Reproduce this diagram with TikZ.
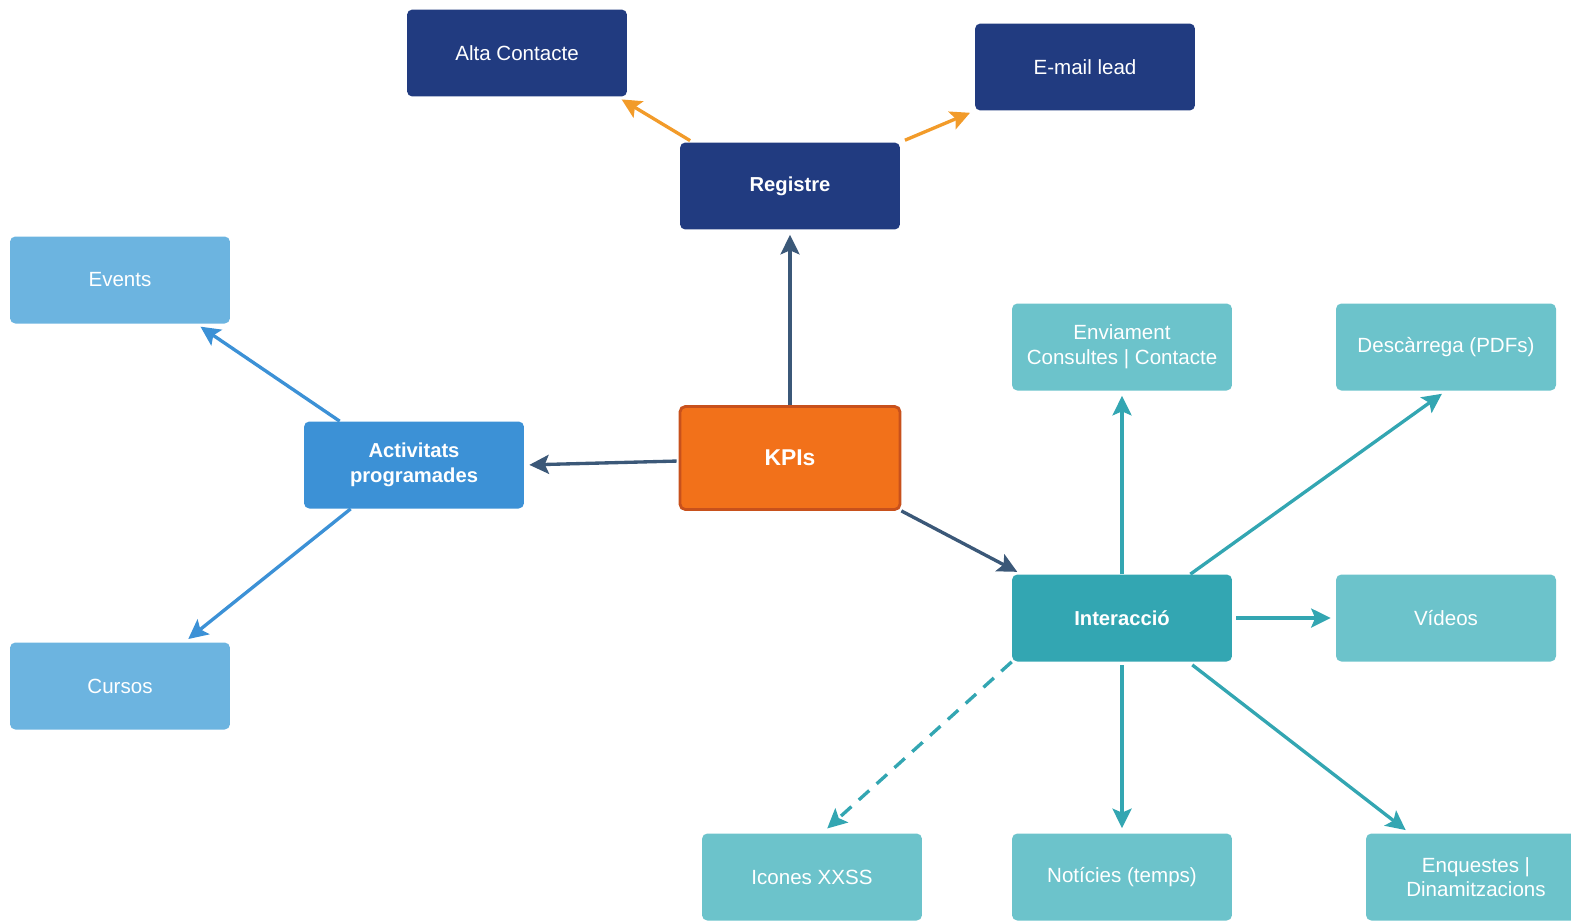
\documentclass[tikz,border=0pt]{standalone}
\usepackage{fontspec}
\setmainfont{Liberation Sans}
\definecolor{KpiNavy}{HTML}{213B80}
\definecolor{KpiOrange}{HTML}{F2711A}
\definecolor{KpiRust}{HTML}{C8511C}
\definecolor{KpiAmber}{HTML}{F29B2A}
\definecolor{KpiSlate}{HTML}{3B5878}
\definecolor{KpiBlue}{HTML}{3C91D6}
\definecolor{KpiSky}{HTML}{6CB4E0}
\definecolor{KpiTeal}{HTML}{33A6B2}
\definecolor{KpiAqua}{HTML}{6CC3CB}
\usetikzlibrary{arrows.meta,positioning}
\tikzset{
  box/.style={rounded corners=3pt, align=center, minimum height=1.74cm, minimum width=4.4cm, inner sep=2pt, text=white, font=\fontsize{11.7}{14}\selectfont},
  navybox/.style={box, fill=KpiNavy},
  actbox/.style={box, fill=KpiBlue, font=\fontsize{11.5}{14}\selectfont\bfseries},
  subbox/.style={box, fill=KpiSky},
  intbox/.style={box, fill=KpiTeal, font=\fontsize{11.5}{14}\selectfont\bfseries},
  leafbox/.style={box, fill=KpiAqua},
  kpibox/.style={box, fill=KpiOrange, draw=KpiRust, line width=1.6pt, minimum width=4.4cm, minimum height=2.06cm, font=\fontsize{13}{15}\selectfont\bfseries},
  arrow/.style={-{Stealth[length=3.9mm,width=3.8mm,inset=0.8mm]}, line width=1.9pt, shorten >=0.1cm}
}
\begin{document}
\begin{tikzpicture}[x=0.02cm, y=-0.02cm]
    \useasboundingbox (0,0) rectangle (1571,920);
    \node[kpibox] (kpis) at (790,458) {KPIs};
    \node[navybox, font=\fontsize{11.5}{14}\selectfont\bfseries] (registre) at (790,186) {Registre};
    \node[navybox] (alta) at (517,53) {Alta Contacte};
    \node[navybox] (email) at (1085,67) {E-mail lead};
    \node[actbox] (activitats) at (414,465) {Activitats\\programades};
    \node[subbox] (events) at (120,280) {Events};
    \node[subbox] (cursos) at (120,686) {Cursos};
    \node[intbox] (interaccio) at (1122,618) {Interacció};
    \node[leafbox] (enviament) at (1122,347) {Enviament\\Consultes | Contacte};
    \node[leafbox] (descarrega) at (1446,347) {Descàrrega (PDFs)};
    \node[leafbox] (videos) at (1446,618) {Vídeos};
    \node[leafbox] (icones) at (812,877) {Icones XXSS};
    \node[leafbox] (noticies) at (1122,877) {Notícies (temps)};
    \node[leafbox] (enquestes) at (1476,877) {Enquestes |\\Dinamitzacions};
    % from KPIs
    \draw[arrow, KpiSlate] (kpis) -- (registre);
    \draw[arrow, KpiSlate, shorten <=0.04cm] ([yshift=-0.06cm]kpis.west) -- (activitats.east);
    \draw[arrow, KpiSlate] (kpis.south east) -- ([xshift=0.2cm]interaccio.north west);
    % registre
    \draw[arrow, KpiAmber, shorten <=0.06cm] ([xshift=0.26cm]registre.north west) -- ([xshift=-0.2cm]alta.south east);
    \draw[arrow, KpiAmber, shorten <=0.1cm] (registre.north east) -- (email.south west);
    % activitats
    \draw[arrow, KpiBlue] ([xshift=0.72cm]activitats.north west) -- ([xshift=-0.68cm]events.south east);
    \draw[arrow, KpiBlue] ([xshift=0.94cm]activitats.south west) -- ([xshift=-0.92cm]cursos.north east);
    % interaccio
    \draw[arrow, KpiTeal] (interaccio) -- (enviament);
    \draw[arrow, KpiTeal] ([xshift=-0.84cm]interaccio.north east) -- (descarrega.south);
    \draw[arrow, KpiTeal, shorten <=0.08cm] (interaccio) -- (videos);
    \draw[arrow, KpiTeal, shorten <=0.07cm] (interaccio) -- (noticies);
    \draw[arrow, KpiTeal, shorten <=0.1cm] ([xshift=-0.88cm]interaccio.south east) -- ([xshift=0.88cm]enquestes.north west);
    \draw[arrow, KpiTeal, dash pattern=on 0.28cm off 0.2cm, shorten >=0.14cm] (interaccio.south west) -- ([xshift=0.2cm]icones.north);
\end{tikzpicture}
\end{document}
